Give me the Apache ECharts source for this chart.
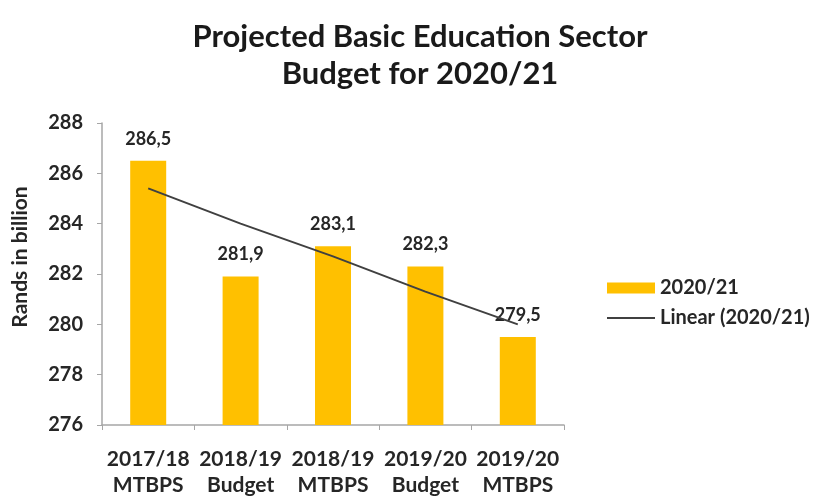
<!DOCTYPE html>
<html><head><meta charset="utf-8">
<script src="https://cdn.jsdelivr.net/npm/echarts@6/dist/echarts.min.js"></script>
<style>html,body{margin:0;padding:0;background:#fff}#c{width:823px;height:498px}</style>
</head><body><div id="c"></div>
<script>
var categories = ['2017/18\nMTBPS', '2018/19\nBudget', '2018/19\nMTBPS', '2019/20\nBudget', '2019/20\nMTBPS'];
var values = [286.5, 281.9, 283.1, 282.3, 279.5];
var trend = [285.4, 284.0, 282.7, 281.3, 280.0];
var yTicks = [276, 278, 280, 282, 284, 286, 288];

var chart = echarts.init(document.getElementById('c'));
var F = 'Lato, "Open Sans", sans-serif';
var TC = '#262626';
chart.setOption({
  animation: false,
  title: {
    text: 'Projected Basic Education Sector\nBudget for 2020/21',
    left: 415, textAlign: 'center', top: 13,
    textStyle: {fontFamily: F, fontSize: 31, fontWeight: 'bold', color: '#1a1a1a', lineHeight: 37}
  },
  graphic: [{
    type: 'text', x: 20, y: 257, rotation: Math.PI / 2,
    style: {text: 'Rands in billion', fontFamily: F, fontSize: 21, fontWeight: 'bold', fill: TC,
      align: 'center', verticalAlign: 'middle'}
  }],
  legend: {
    orient: 'vertical', left: 602, top: 273, itemGap: 10,
    itemWidth: 48, itemHeight: 11,
    textStyle: {fontFamily: F, fontSize: 20, fontWeight: 'bold', color: TC},
    data: [{name: '2020/21', icon: 'rect'},
           {name: 'Linear (2020/21)', icon: 'path://M0,0H24V1H0Z', itemStyle: {color: '#404040'}}]
  },
  grid: {left: 102, right: 259, top: 123, bottom: 73},
  xAxis: {
    type: 'category', data: categories,
    axisLine: {lineStyle: {color: '#a6a6a6', width: 1.5}},
    axisTick: {show: true, lineStyle: {color: '#a6a6a6'}, length: 5},
    axisLabel: {fontFamily: F, fontSize: 21, fontWeight: 'bold', color: TC, margin: 21, lineHeight: 26, interval: 0}
  },
  yAxis: {
    type: 'value', min: 276, max: 288, interval: 2,
    axisLine: {show: true, lineStyle: {color: '#a6a6a6', width: 1.5}},
    axisTick: {show: true, lineStyle: {color: '#a6a6a6'}, length: 5},
    splitLine: {show: false},
    axisLabel: {fontFamily: F, fontSize: 20, fontWeight: 'bold', color: TC, margin: 19,
      customValues: yTicks}
  },
  series: [
    {
      name: '2020/21', type: 'bar', data: values, barWidth: 36,
      itemStyle: {color: '#FFC000'},
      label: {show: true, position: 'top', distance: 13, fontFamily: F, fontSize: 18, fontWeight: 'bold', color: TC,
        formatter: function(p){ return p.value.toFixed(1).replace('.', ','); }}
    },
    {
      name: 'Linear (2020/21)', type: 'line', data: trend, symbol: 'none',
      lineStyle: {color: '#404040', width: 2}, itemStyle: {color: '#404040'}, z: 5
    }
  ]
});
</script></body></html>
